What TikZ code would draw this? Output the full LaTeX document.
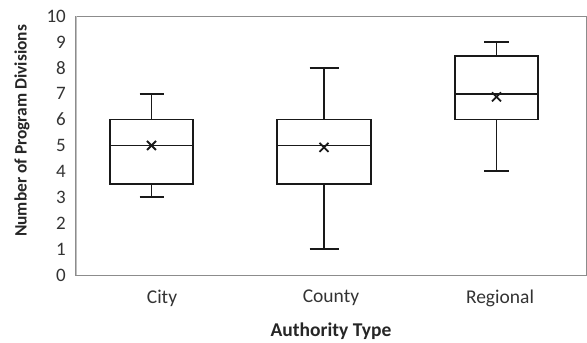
\documentclass[tikz,border=0pt]{standalone}
\usepackage{fontspec}
\setmainfont{Carlito}
\begin{document}
\begin{tikzpicture}[x=1pt,y=1pt,
  boxln/.style={line width=1.8pt,black!90},
  tick/.style={font=\fontsize{19}{20}\selectfont,text=black!80,anchor=east,inner sep=0pt},
  cat/.style={font=\fontsize{19.5}{21}\selectfont,text=black!80,inner sep=0pt},
  ttl/.style={text=black!85,inner sep=0pt}]
\useasboundingbox (0,0) rectangle (587,343);
\begin{scope}[shift={(0,68)},y=25.9pt]
  % frame
  \draw[black!45,line width=0.9pt] (75,0) rectangle (586,10);
  \draw[black!25,line width=1.2pt] (76.5,0) -- (76.5,10);
  % ticks
  \foreach \v in {0,...,10} { \node[tick] (t\v) at (66,\v) {\v}; }
  % boxes: center, halfwidth, capw, min, q1, med, q3, max, mean
  \foreach \c/\hw/\cw/\mn/\qa/\md/\qb/\mx/\me in {151.5/41.5/12/3/3.5/5/6/7/5, 324/47/14.5/1/3.5/5/6/8/4.93, 496.5/41.5/12.5/4/6/7/8.45/9/6.88} {
    \draw[boxln] (\c-\hw,\qa) rectangle (\c+\hw,\qb);
    \draw[boxln] (\c-\hw,\md) -- (\c+\hw,\md);
    \draw[boxln] (\c,\qb) -- (\c,\mx);
    \draw[boxln] (\c-\cw,\mx) -- (\c+\cw,\mx);
    \draw[boxln] (\c,\qa) -- (\c,\mn);
    \draw[boxln] (\c-\cw,\mn) -- (\c+\cw,\mn);
    \draw[boxln] ([xshift=-4.5pt,yshift=-4.5pt]\c,\me) -- ([xshift=4.5pt,yshift=4.5pt]\c,\me);
    \draw[boxln] ([xshift=-4.5pt,yshift=4.5pt]\c,\me) -- ([xshift=4.5pt,yshift=-4.5pt]\c,\me);
  }
\end{scope}
\node[cat] (city) at (162,45) {City};
\node[cat] (county) at (331,45) {County};
\node[cat] (regional) at (500,45) {Regional};
\node[ttl,font=\bfseries\fontsize{19.5}{21}\selectfont] (xlab) at (331,12) {Authority Type};
\node[ttl,rotate=90,font=\bfseries\fontsize{17.4}{19}\selectfont] (ylab) at (22,212) {Number of Program Divisions};
\end{tikzpicture}
\end{document}
